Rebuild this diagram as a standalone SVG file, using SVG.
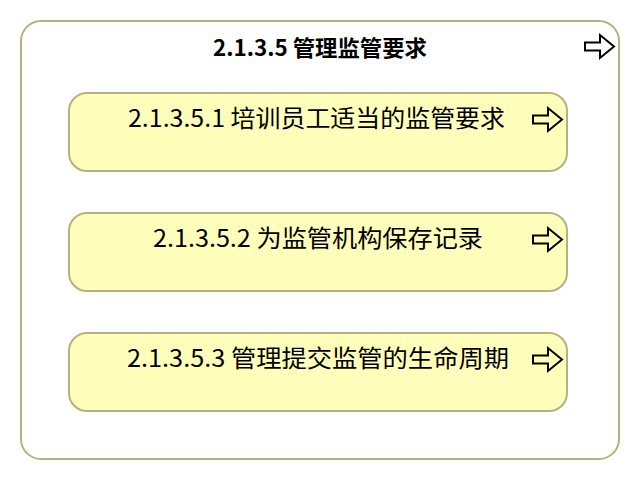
<svg xmlns="http://www.w3.org/2000/svg" width="640" height="480" viewBox="0 0 640 480">
<defs>
<style>
.outer{fill:#ffffff;stroke:#b4b27f;stroke-width:2}
.box{fill:#ffffbb;stroke:#b4b27f;stroke-width:2}
.t{font-family:"Noto Sans CJK SC","Noto Sans",sans-serif;fill:#000;text-anchor:start}
.title{font-size:22px;font-weight:bold}
.lbl{font-size:24px}
.arr{fill:none;stroke:#000;stroke-width:2;stroke-linejoin:miter}
</style>
<path id="arrow" d="M0,7.5 H15 V0 L29,11.5 L15,23 V15.5 H0 Z"/>
</defs>
<g id="n0">
<rect class="outer" x="21" y="21" width="598" height="438" rx="20" ry="20"/>
<text class="t title" x="213" y="56" textLength="214" lengthAdjust="spacingAndGlyphs">2.1.3.5 管理监管要求</text>
<use href="#arrow" class="arr" x="585" y="35"/>
</g>
<g id="n1">
<rect class="box" x="69" y="93" width="498" height="78" rx="18" ry="18"/>
<text class="t lbl" x="128" y="127" textLength="377" lengthAdjust="spacingAndGlyphs">2.1.3.5.1 培训员工适当的监管要求</text>
<use href="#arrow" class="arr" x="533" y="108"/>
</g>
<g id="n2">
<rect class="box" x="69" y="213" width="498" height="78" rx="18" ry="18"/>
<text class="t lbl" x="153" y="247" textLength="330" lengthAdjust="spacingAndGlyphs">2.1.3.5.2 为监管机构保存记录</text>
<use href="#arrow" class="arr" x="533" y="228"/>
</g>
<g id="n3">
<rect class="box" x="69" y="333" width="498" height="78" rx="18" ry="18"/>
<text class="t lbl" x="127" y="367" textLength="382" lengthAdjust="spacingAndGlyphs">2.1.3.5.3 管理提交监管的生命周期</text>
<use href="#arrow" class="arr" x="533" y="348"/>
</g>
<g id="connectors"/>
</svg>
